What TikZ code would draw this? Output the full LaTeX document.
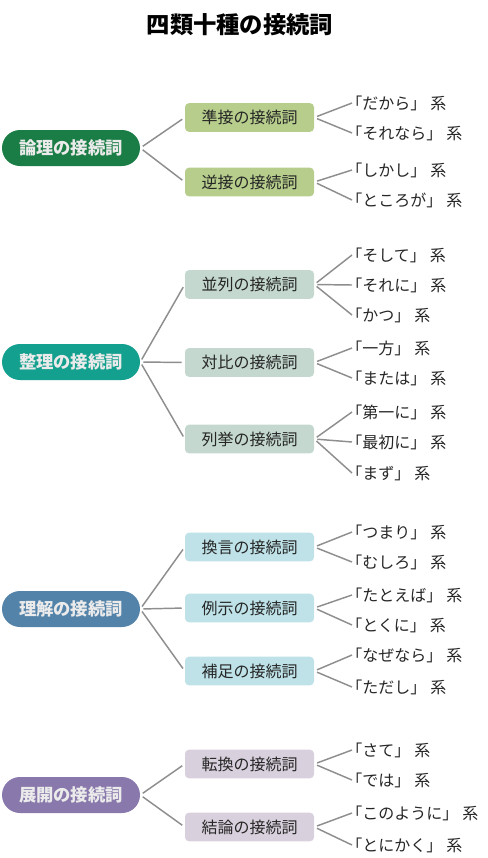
\documentclass[tikz,border=0pt]{standalone}
\usepackage{fontspec}
\setmainfont{Noto Sans CJK JP}
\usetikzlibrary{calc}

\definecolor{logicdark}{HTML}{1B7D46}
\definecolor{logiclight}{HTML}{B6CD8B}
\definecolor{orderdark}{HTML}{13A08E}
\definecolor{orderlight}{HTML}{C4D8CF}
\definecolor{graspdark}{HTML}{5483A9}
\definecolor{grasplight}{HTML}{BEE2E7}
\definecolor{movedark}{HTML}{8878AB}
\definecolor{movelight}{HTML}{D9D0DD}
\definecolor{linkgray}{HTML}{8E8E8E}

\newcommand{\kei}[1]{「#1」\hspace{3pt}系}

\begin{document}
\begin{tikzpicture}[x=0.75pt,y=-0.75pt,
    pill/.style={fill=#1,rounded corners=13.5pt,minimum width=103.5pt,
        minimum height=27pt,inner sep=0pt,text=white!92!black,
        font=\fontsize{13}{13}\selectfont\bfseries},
    sub/.style={fill=#1,rounded corners=3pt,minimum width=96.75pt,
        minimum height=21.5pt,inner sep=0pt,text=black!85,
        font=\fontsize{12}{12}\selectfont},
    leaf/.style={anchor=west,inner sep=0pt,text=black!85,
        font=\fontsize{12}{12}\selectfont},
    link/.style={draw=linkgray,line width=1.1pt,shorten <=2.25pt,shorten >=2.25pt}
]
\useasboundingbox (0,0) rectangle (487,858);

% Title
\node[font=\fontsize{17.5}{17.5}\selectfont\bfseries] (title) at (240,25) {四類十種の接続詞};

% Logic
\node[pill=logicdark] (logic) at (71,148) {論理の接続詞};
\node[sub=logiclight] (jun) at (249.5,117.5) {準接の接続詞};
\node[sub=logiclight] (gyaku) at (249.5,182) {逆接の接続詞};
\draw[link] (logic.east) -- (jun.west);
\draw[link] (logic.east) -- (gyaku.west);
\foreach \t/\y [count=\i] in {だから/103,それなら/133}{
    \node[leaf] (jun\i) at (346,\y) {\kei{\t}};
    \draw[link,shorten >=0pt] (jun.east) -- ([xshift=4.5pt]jun\i.west);
}
\foreach \t/\y [count=\i] in {しかし/170,ところが/200}{
    \node[leaf] (gyaku\i) at (346,\y) {\kei{\t}};
    \draw[link,shorten >=0pt] (gyaku.east) -- ([xshift=4.5pt]gyaku\i.west);
}

% Order
\node[pill=orderdark] (order) at (71,362) {整理の接続詞};
\node[sub=orderlight] (heiretsu) at (249.5,284.5) {並列の接続詞};
\node[sub=orderlight] (taihi) at (249.5,362.5) {対比の接続詞};
\node[sub=orderlight] (rekkyo) at (249.5,439) {列挙の接続詞};
\draw[link] (order.east) -- (heiretsu.west);
\draw[link] (order.east) -- (taihi.west);
\draw[link] (order.east) -- (rekkyo.west);
\foreach \t/\y [count=\i] in {そして/255,それに/285,かつ/315}{
    \node[leaf] (heiretsu\i) at (346,\y) {\kei{\t}};
    \draw[link,shorten >=0pt] (heiretsu.east) -- ([xshift=4.5pt]heiretsu\i.west);
}
\foreach \t/\y [count=\i] in {一方/348,または/378}{
    \node[leaf] (taihi\i) at (346,\y) {\kei{\t}};
    \draw[link,shorten >=0pt] (taihi.east) -- ([xshift=4.5pt]taihi\i.west);
}
\foreach \t/\y [count=\i] in {第一に/412,最初に/442,まず/473}{
    \node[leaf] (rekkyo\i) at (346,\y) {\kei{\t}};
    \draw[link,shorten >=0pt] (rekkyo.east) -- ([xshift=4.5pt]rekkyo\i.west);
}

% Grasp
\node[pill=graspdark] (grasp) at (71,609) {理解の接続詞};
\node[sub=grasplight] (kangen) at (249.5,547) {換言の接続詞};
\node[sub=grasplight] (reiji) at (249.5,608) {例示の接続詞};
\node[sub=grasplight] (hosoku) at (249.5,671) {補足の接続詞};
\draw[link] (grasp.east) -- (kangen.west);
\draw[link] (grasp.east) -- (reiji.west);
\draw[link] (grasp.east) -- (hosoku.west);
\foreach \t/\y [count=\i] in {つまり/532,むしろ/562}{
    \node[leaf] (kangen\i) at (346,\y) {\kei{\t}};
    \draw[link,shorten >=0pt] (kangen.east) -- ([xshift=4.5pt]kangen\i.west);
}
\foreach \t/\y [count=\i] in {たとえば/595,とくに/625}{
    \node[leaf] (reiji\i) at (346,\y) {\kei{\t}};
    \draw[link,shorten >=0pt] (reiji.east) -- ([xshift=4.5pt]reiji\i.west);
}
\foreach \t/\y [count=\i] in {なぜなら/655,ただし/687}{
    \node[leaf] (hosoku\i) at (346,\y) {\kei{\t}};
    \draw[link,shorten >=0pt] (hosoku.east) -- ([xshift=4.5pt]hosoku\i.west);
}

% Move
\node[pill=movedark] (move) at (71,795) {展開の接続詞};
\node[sub=movelight] (tenkan) at (249.5,764) {転換の接続詞};
\node[sub=movelight] (ketsuron) at (249.5,827) {結論の接続詞};
\draw[link] (move.east) -- (tenkan.west);
\draw[link] (move.east) -- (ketsuron.west);
\foreach \t/\y [count=\i] in {さて/750,では/780}{
    \node[leaf] (tenkan\i) at (346,\y) {\kei{\t}};
    \draw[link,shorten >=0pt] (tenkan.east) -- ([xshift=4.5pt]tenkan\i.west);
}
\foreach \t/\y [count=\i] in {このように/813,とにかく/845}{
    \node[leaf] (ketsuron\i) at (346,\y) {\kei{\t}};
    \draw[link,shorten >=0pt] (ketsuron.east) -- ([xshift=4.5pt]ketsuron\i.west);
}

\end{tikzpicture}
\end{document}
